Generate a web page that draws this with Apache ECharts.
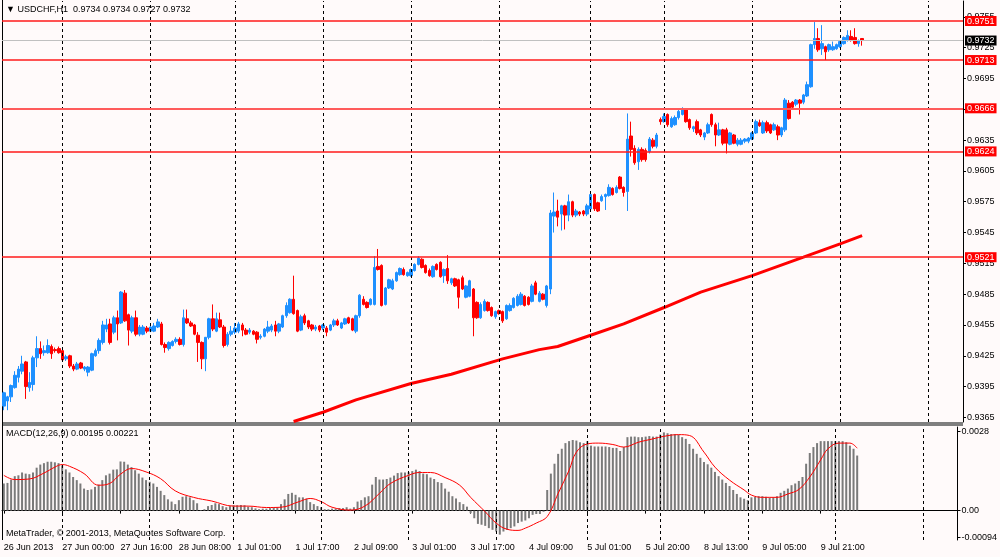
<!DOCTYPE html>
<html>
<head>
<meta charset="utf-8">
<title>USDCHF,H1</title>
<script src="https://cdn.jsdelivr.net/npm/echarts@6/dist/echarts.min.js"></script>
<style>
  html, body { margin: 0; padding: 0; background: #fffafa; }
  #main { width: 1000px; height: 557px; }
</style>
</head>
<body>
<div id="main"></div>
<script>
// hourly candles, [open, close, low, high]
var ohlc = [
  [0.9376,0.9389,0.9372,0.9390],[0.9381,0.9385,0.9372,0.9386],[0.9385,0.9396,0.9380,0.9397],[0.9394,0.9406,0.9393,0.9410],[0.9404,0.9412,0.9399,0.9415],
  [0.9410,0.9417,0.9407,0.9425],[0.9419,0.9395,0.9383,0.9420],[0.9394,0.9399,0.9390,0.9409],[0.9397,0.9423,0.9391,0.9425],[0.9423,0.9432,0.9414,0.9444],
  [0.9432,0.9427,0.9422,0.9439],[0.9428,0.9430,0.9425,0.9435],[0.9428,0.9435,0.9427,0.9441],[0.9434,0.9427,0.9422,0.9436],[0.9431,0.9430,0.9428,0.9433],
  [0.9432,0.9428,0.9427,0.9434],[0.9430,0.9421,0.9420,0.9432],[0.9422,0.9424,0.9420,0.9426],[0.9425,0.9415,0.9413,0.9426],[0.9415,0.9412,0.9410,0.9417],
  [0.9412,0.9417,0.9411,0.9419],[0.9418,0.9413,0.9412,0.9419],[0.9412,0.9414,0.9410,0.9415],[0.9409,0.9414,0.9405,0.9415],[0.9411,0.9427,0.9410,0.9428],
  [0.9425,0.9430,0.9424,0.9432],[0.9430,0.9440,0.9427,0.9442],[0.9438,0.9455,0.9436,0.9459],[0.9451,0.9455,0.9448,0.9461],[0.9456,0.9438,0.9436,0.9461],
  [0.9448,0.9462,0.9446,0.9464],[0.9462,0.9456,0.9440,0.9469],[0.9457,0.9487,0.9456,0.9488],[0.9486,0.9459,0.9458,0.9489],[0.9465,0.9450,0.9435,0.9466],
  [0.9449,0.9462,0.9447,0.9464],[0.9462,0.9446,0.9444,0.9469],[0.9446,0.9453,0.9444,0.9455],[0.9446,0.9453,0.9445,0.9455],[0.9452,0.9449,0.9447,0.9454],
  [0.9449,0.9453,0.9448,0.9455],[0.9449,0.9454,0.9448,0.9457],[0.9453,0.9458,0.9452,0.9461],[0.9456,0.9436,0.9435,0.9458],[0.9436,0.9433,0.9428,0.9438],
  [0.9432,0.9438,0.9430,0.9439],[0.9435,0.9439,0.9434,0.9440],[0.9439,0.9441,0.9437,0.9443],[0.9441,0.9436,0.9435,0.9443],[0.9436,0.9462,0.9434,0.9470],
  [0.9461,0.9457,0.9456,0.9470],[0.9457,0.9454,0.9453,0.9459],[0.9455,0.9446,0.9445,0.9456],[0.9445,0.9438,0.9419,0.9448],[0.9438,0.9422,0.9412,0.9439],
  [0.9422,0.9443,0.9410,0.9443],[0.9443,0.9461,0.9441,0.9462],[0.9461,0.9451,0.9449,0.9475],[0.9449,0.9461,0.9448,0.9467],[0.9460,0.9453,0.9452,0.9467],
  [0.9453,0.9435,0.9433,0.9455],[0.9436,0.9446,0.9434,0.9448],[0.9446,0.9449,0.9444,0.9454],[0.9448,0.9452,0.9446,0.9457],[0.9449,0.9456,0.9447,0.9458],
  [0.9455,0.9450,0.9444,0.9457],[0.9450,0.9446,0.9445,0.9452],[0.9448,0.9450,0.9446,0.9452],[0.9449,0.9446,0.9445,0.9450],[0.9448,0.9441,0.9437,0.9449],
  [0.9443,0.9444,0.9441,0.9446],[0.9444,0.9451,0.9443,0.9452],[0.9449,0.9453,0.9447,0.9459],[0.9450,0.9454,0.9448,0.9456],[0.9455,0.9449,0.9444,0.9459],
  [0.9449,0.9456,0.9447,0.9457],[0.9453,0.9464,0.9452,0.9465],[0.9464,0.9474,0.9462,0.9477],[0.9467,0.9480,0.9466,0.9481],[0.9480,0.9466,0.9465,0.9503],
  [0.9469,0.9449,0.9448,0.9470],[0.9450,0.9463,0.9449,0.9465],[0.9464,0.9457,0.9455,0.9466],[0.9459,0.9453,0.9451,0.9460],[0.9455,0.9451,0.9449,0.9456],
  [0.9451,0.9453,0.9449,0.9455],[0.9454,0.9450,0.9448,0.9455],[0.9452,0.9455,0.9450,0.9456],[0.9452,0.9448,0.9444,0.9454],[0.9450,0.9455,0.9449,0.9456],
  [0.9455,0.9459,0.9453,0.9461],[0.9459,0.9455,0.9454,0.9461],[0.9452,0.9457,0.9451,0.9458],[0.9456,0.9461,0.9455,0.9462],[0.9462,0.9457,0.9456,0.9463],
  [0.9461,0.9450,0.9449,0.9462],[0.9449,0.9464,0.9447,0.9465],[0.9464,0.9484,0.9462,0.9485],[0.9480,0.9475,0.9474,0.9483],[0.9477,0.9472,0.9471,0.9478],
  [0.9475,0.9480,0.9474,0.9481],[0.9475,0.9511,0.9474,0.9522],[0.9512,0.9509,0.9508,0.9529],[0.9513,0.9474,0.9473,0.9514],[0.9475,0.9491,0.9474,0.9492],
  [0.9491,0.9499,0.9490,0.9500],[0.9490,0.9498,0.9489,0.9500],[0.9498,0.9506,0.9497,0.9507],[0.9504,0.9510,0.9503,0.9511],[0.9509,0.9504,0.9503,0.9511],
  [0.9503,0.9506,0.9502,0.9507],[0.9503,0.9509,0.9502,0.9510],[0.9508,0.9514,0.9507,0.9515],[0.9514,0.9520,0.9513,0.9522],[0.9519,0.9511,0.9510,0.9520],
  [0.9513,0.9506,0.9505,0.9514],[0.9508,0.9503,0.9502,0.9510],[0.9502,0.9512,0.9501,0.9513],[0.9514,0.9509,0.9508,0.9515],[0.9516,0.9502,0.9501,0.9517],
  [0.9503,0.9509,0.9496,0.9510],[0.9510,0.9498,0.9495,0.9523],[0.9496,0.9500,0.9494,0.9501],[0.9500,0.9493,0.9492,0.9501],[0.9499,0.9482,0.9471,0.9500],
  [0.9501,0.9490,0.9489,0.9503],[0.9482,0.9493,0.9481,0.9494],[0.9483,0.9498,0.9482,0.9499],[0.9490,0.9462,0.9444,0.9491],[0.9477,0.9462,0.9461,0.9478],
  [0.9462,0.9475,0.9461,0.9477],[0.9469,0.9478,0.9468,0.9480],[0.9477,0.9469,0.9468,0.9478],[0.9472,0.9464,0.9463,0.9473],[0.9463,0.9468,0.9461,0.9469],
  [0.9469,0.9466,0.9465,0.9470],[0.9468,0.9459,0.9457,0.9469],[0.9461,0.9474,0.9460,0.9475],[0.9469,0.9474,0.9468,0.9476],[0.9472,0.9481,0.9471,0.9482],
  [0.9474,0.9483,0.9473,0.9485],[0.9475,0.9485,0.9474,0.9487],[0.9483,0.9474,0.9473,0.9484],[0.9482,0.9475,0.9474,0.9483],[0.9478,0.9493,0.9477,0.9495],
  [0.9496,0.9485,0.9484,0.9498],[0.9478,0.9486,0.9477,0.9488],[0.9485,0.9480,0.9479,0.9486],[0.9474,0.9493,0.9472,0.9494],[0.9490,0.9564,0.9485,0.9567],
  [0.9561,0.9565,0.9545,0.9584],[0.9566,0.9560,0.9551,0.9577],[0.9563,0.9571,0.9547,0.9572],[0.9571,0.9562,0.9548,0.9572],[0.9562,0.9575,0.9556,0.9582],
  [0.9575,0.9562,0.9560,0.9576],[0.9562,0.9566,0.9560,0.9568],[0.9565,0.9563,0.9561,0.9566],[0.9566,0.9563,0.9561,0.9567],[0.9563,0.9571,0.9561,0.9573],
  [0.9568,0.9582,0.9566,0.9583],[0.9582,0.9568,0.9566,0.9583],[0.9574,0.9566,0.9565,0.9575],[0.9576,0.9580,0.9575,0.9582],[0.9580,0.9582,0.9567,0.9583],
  [0.9581,0.9589,0.9580,0.9592],[0.9588,0.9582,0.9581,0.9589],[0.9584,0.9589,0.9583,0.9591],[0.9599,0.9588,0.9587,0.9600],[0.9589,0.9584,0.9580,0.9590],
  [0.9585,0.9636,0.9566,0.9661],[0.9639,0.9626,0.9619,0.9653],[0.9627,0.9613,0.9611,0.9630],[0.9614,0.9626,0.9606,0.9628],[0.9626,0.9616,0.9614,0.9628],
  [0.9625,0.9616,0.9614,0.9627],[0.9624,0.9636,0.9622,0.9638],[0.9635,0.9629,0.9627,0.9637],[0.9629,0.9640,0.9627,0.9642],[0.9655,0.9653,0.9650,0.9657],
  [0.9653,0.9658,0.9652,0.9661],[0.9660,0.9650,0.9648,0.9661],[0.9648,0.9656,0.9647,0.9658],[0.9650,0.9657,0.9649,0.9659],[0.9657,0.9663,0.9655,0.9665],
  [0.9660,0.9665,0.9659,0.9667],[0.9665,0.9653,0.9652,0.9666],[0.9655,0.9647,0.9645,0.9656],[0.9646,0.9648,0.9643,0.9649],[0.9653,0.9642,0.9640,0.9655],
  [0.9645,0.9640,0.9638,0.9646],[0.9638,0.9642,0.9635,0.9643],[0.9642,0.9650,0.9641,0.9652],[0.9660,0.9650,0.9648,0.9661],[0.9650,0.9640,0.9629,0.9652],
  [0.9640,0.9645,0.9639,0.9652],[0.9645,0.9632,0.9630,0.9646],[0.9645,0.9632,0.9622,0.9647],[0.9631,0.9642,0.9630,0.9643],[0.9640,0.9632,0.9631,0.9641],
  [0.9631,0.9635,0.9629,0.9637],[0.9631,0.9635,0.9630,0.9637],[0.9634,0.9636,0.9632,0.9637],[0.9634,0.9637,0.9632,0.9638],[0.9636,0.9642,0.9635,0.9643],
  [0.9642,0.9653,0.9641,0.9655],[0.9652,0.9649,0.9648,0.9655],[0.9642,0.9652,0.9641,0.9654],[0.9652,0.9644,0.9642,0.9654],[0.9650,0.9642,0.9641,0.9651],
  [0.9645,0.9650,0.9644,0.9652],[0.9648,0.9640,0.9635,0.9650],[0.9640,0.9647,0.9638,0.9648],[0.9645,0.9674,0.9643,0.9676],[0.9671,0.9656,0.9655,0.9674],
  [0.9672,0.9667,0.9665,0.9673],[0.9670,0.9674,0.9668,0.9675],[0.9674,0.9671,0.9660,0.9675],[0.9672,0.9679,0.9670,0.9680],[0.9678,0.9689,0.9677,0.9692],
  [0.9687,0.9728,0.9686,0.9729],[0.9728,0.9734,0.9724,0.9750],[0.9734,0.9723,0.9721,0.9744],[0.9724,0.9729,0.9718,0.9747],[0.9726,0.9721,0.9713,0.9727],
  [0.9723,0.9728,0.9721,0.9729],[0.9723,0.9726,0.9722,0.9731],[0.9724,0.9728,0.9723,0.9729],[0.9726,0.9731,0.9725,0.9732],[0.9729,0.9735,0.9728,0.9736],
  [0.9732,0.9737,0.9731,0.9742],[0.9736,0.9732,0.9731,0.9742],[0.9735,0.9729,0.9728,0.9744],[0.9729,0.9732,0.9726,0.9733],[0.9734,0.9732,0.9727,0.9734]
];

// 200-period moving average, read at [bar, price]
var maPts = [[79,0.9361],[87,0.9370],[96,0.9382],[111,0.9398],[122,0.9407],[136,0.9422],[146,0.9431],[151,0.9434],
  [160,0.9445],[169,0.9456],[180,0.9472],[190,0.9487],[204,0.9503],[218,0.9521],[228,0.9534],[234,0.9542]];

// MACD(12,26,9) main histogram, one value per bar
var macdHist = [
  0.00096,0.00098,0.00110,0.00122,0.00125,0.00135,0.00131,0.00129,0.00135,0.00152,
  0.00163,0.00168,0.00173,0.00173,0.00171,0.00168,0.00160,0.00146,0.00135,0.00119,
  0.00108,0.00096,0.00078,0.00073,0.00075,0.00084,0.00092,0.00108,0.00125,0.00131,
  0.00145,0.00146,0.00174,0.00173,0.00163,0.00154,0.00143,0.00131,0.00117,0.00108,
  0.00102,0.00096,0.00084,0.00070,0.00055,0.00040,0.00032,0.00023,0.00037,0.00049,
  0.00051,0.00047,0.00037,0.00026,0.00002,0.00005,0.00016,0.00020,0.00026,0.00023,
  0.00016,0.00012,0.00016,0.00019,0.00019,0.00020,0.00019,0.00014,0.00012,0.00008,
  0.00005,0.00007,0.00007,0.00009,0.00011,0.00012,0.00023,0.00040,0.00059,0.00063,
  0.00056,0.00047,0.00047,0.00042,0.00030,0.00023,0.00016,0.00012,0.00005,0.00005,
  0.00007,0.00007,0.00009,0.00009,0.00012,0.00007,0.00012,0.00032,0.00037,0.00047,
  0.00051,0.00092,0.00119,0.00110,0.00110,0.00112,0.00117,0.00124,0.00133,0.00135,
  0.00135,0.00136,0.00140,0.00145,0.00140,0.00131,0.00129,0.00117,0.00112,0.00101,
  0.00098,0.00078,0.00067,0.00051,0.00043,0.00030,0.00023,0.00014,-0.00009,-0.00027,
  -0.00047,-0.00050,-0.00054,-0.00062,-0.00068,-0.00074,-0.00085,-0.00074,-0.00068,-0.00062,
  -0.00056,-0.00044,-0.00039,-0.00035,-0.00027,-0.00015,-0.00012,-0.00012,-0.00004,0.00073,
  0.00131,0.00166,0.00201,0.00219,0.00239,0.00246,0.00250,0.00248,0.00242,0.00239,
  0.00246,0.00230,0.00227,0.00227,0.00227,0.00227,0.00225,0.00222,0.00222,0.00211,
  0.00225,0.00260,0.00262,0.00262,0.00260,0.00260,0.00262,0.00264,0.00262,0.00262,
  0.00269,0.00277,0.00274,0.00271,0.00271,0.00269,0.00260,0.00254,0.00236,0.00219,
  0.00201,0.00187,0.00172,0.00164,0.00152,0.00137,0.00122,0.00110,0.00098,0.00087,
  0.00073,0.00059,0.00047,0.00042,0.00037,0.00047,0.00049,0.00051,0.00051,0.00049,
  0.00046,0.00047,0.00051,0.00063,0.00070,0.00078,0.00090,0.00096,0.00105,0.00119,
  0.00166,0.00204,0.00225,0.00239,0.00246,0.00246,0.00246,0.00246,0.00246,0.00246,
  0.00246,0.00242,0.00230,0.00219,0.00195
];

// MACD signal line, read at [bar, value]
var signalPts = [[0,0.00125],[3,0.00110],[7,0.00112],[11,0.00133],[14,0.00154],[16,0.00163],[18,0.00157],[22,0.00131],
  [26,0.00090],[29,0.00096],[32,0.00129],[35,0.00149],[39,0.00137],[43,0.00113],[47,0.00070],[52,0.00047],[57,0.00034],
  [63,0.00016],[67,0.00016],[72,0.00011],[76,0.00012],[81,0.00032],[84,0.00043],[87,0.00032],[90,0.00012],[95,0.00002],
  [99,0.00016],[103,0.00061],[106,0.00096],[111,0.00125],[114,0.00135],[117,0.00135],[121,0.00117],[125,0.00090],
  [128,0.00047],[132,-0.00004],[135,-0.00044],[138,-0.00066],[141,-0.00070],[143,-0.00062],[146,-0.00044],[149,-0.00021],
  [152,0.00061],[155,0.00143],[157,0.00207],[160,0.00236],[163,0.00239],[167,0.00234],[170,0.00225],[174,0.00242],
  [178,0.00254],[181,0.00263],[185,0.00269],[188,0.00266],[192,0.00207],[195,0.00154],[199,0.00108],[203,0.00073],
  [205,0.00055],[208,0.00047],[212,0.00047],[215,0.00059],[218,0.00075],[221,0.00119],[224,0.00180],[226,0.00219],
  [229,0.00239],[232,0.00239],[234,0.00221]];

var levels = [0.9751, 0.9713, 0.9666, 0.9624, 0.9521];
var lastPrice = 0.9732;
var priceTicks = [0.9365, 0.9395, 0.9425, 0.9455, 0.9485, 0.9515, 0.9545, 0.9575, 0.9605, 0.9635, 0.9665, 0.9695, 0.9725, 0.9755];
var macdTicks = [-0.00094, 0, 0.0028];
var macdTickLabels = ['-0.00094', '0.00', '0.0028'];
var timeLabelIdx = [0, 16, 32, 48, 64, 80, 96, 112, 128, 144, 160, 176, 192, 208, 224];
var timeLabels = ['26 Jun 2013', '27 Jun 00:00', '27 Jun 16:00', '28 Jun 08:00', '1 Jul 01:00', '1 Jul 17:00', '2 Jul 09:00',
  '3 Jul 01:00', '3 Jul 17:00', '4 Jul 09:00', '5 Jul 01:00', '5 Jul 20:00', '8 Jul 13:00', '9 Jul 05:00', '9 Jul 21:00'];
var dayLines = [16, 40, 63, 87, 111, 135, 160, 180, 204, 228, 252];
var barSlots = 262;   // visible bar positions incl. empty space on the right

var FONT = "'Liberation Sans', Arial, sans-serif";

var cats = [];
for (var i = 0; i < barSlots; i++) cats.push(String(i));

function isTimeLabel(idx) { return timeLabelIdx.indexOf(idx) >= 0; }

var gridLines = dayLines.map(function (d) { return { xAxis: d }; });

// one markLine per level so every line keeps its own red style
var levelSeries = levels.map(function (v) {
  var thick = v === 0.9666;
  return {
    type: 'line', xAxisIndex: 0, yAxisIndex: 0, data: [], z: 2, silent: true,
    markLine: {
      symbol: 'none', silent: true, animation: false, precision: 5,
      lineStyle: { color: thick ? '#ff5a5a' : '#ff1a1a', width: thick ? 2 : 1.5, type: 'solid' },
      label: {
        show: true, position: 'end', distance: 2, color: '#fff', fontSize: 9, fontFamily: FONT,
        padding: [1, 2, 0, 2], backgroundColor: '#ff0000', formatter: v.toFixed(4)
      },
      data: [{ yAxis: v }]
    }
  };
});
levelSeries.push({
  type: 'line', xAxisIndex: 0, yAxisIndex: 0, data: [], z: 2, silent: true,
  markLine: {
    symbol: 'none', silent: true, animation: false, precision: 5,
    lineStyle: { color: '#c0c0c0', width: 1, type: 'solid' },
    label: {
      show: true, position: 'end', distance: 2, color: '#fff', fontSize: 9, fontFamily: FONT,
      padding: [1, 2, 0, 2], backgroundColor: '#000000', formatter: lastPrice.toFixed(4)
    },
    data: [{ yAxis: lastPrice }]
  }
});

var myChart = echarts.init(document.getElementById('main'));

var option = {
  animation: false,
  backgroundColor: '#fffafa',
  textStyle: { fontFamily: FONT },
  grid: [
    { left: 2, right: 37, top: 1, height: 421 },
    { left: 2, right: 37, top: 427, height: 113 }
  ],
  xAxis: [
    {
      type: 'category', gridIndex: 0, data: cats, boundaryGap: true,
      axisLine: { show: false }, axisTick: { show: false }, axisLabel: { show: false }, splitLine: { show: false }
    },
    {
      type: 'category', gridIndex: 1, data: cats, boundaryGap: true,
      axisLine: { show: true, lineStyle: { color: '#000', width: 1 } },
      axisTick: { show: true, alignWithLabel: true, length: 3, interval: isTimeLabel, lineStyle: { color: '#000' } },
      axisLabel: {
        interval: isTimeLabel, align: 'left', margin: 3, color: '#000', fontSize: 9, fontFamily: FONT,
        formatter: function (val) { return timeLabels[timeLabelIdx.indexOf(Number(val))] || ''; }
      },
      splitLine: { show: false }
    }
  ],
  yAxis: [
    {
      type: 'value', gridIndex: 0, position: 'right', min: 0.93605, max: 0.97705,
      axisLine: { show: true, lineStyle: { color: '#000' } },
      axisTick: { show: true, length: 3, customValues: priceTicks, lineStyle: { color: '#000' } },
      axisLabel: {
        customValues: priceTicks, margin: 4, color: '#000', fontSize: 9, fontFamily: FONT,
        formatter: function (v) { return v.toFixed(4); }
      },
      splitLine: { show: false }
    },
    {
      type: 'value', gridIndex: 1, position: 'right', min: -0.00104, max: 0.00296,
      axisLine: { show: true, lineStyle: { color: '#000' } },
      axisTick: { show: true, length: 3, customValues: macdTicks, lineStyle: { color: '#000' } },
      axisLabel: {
        customValues: macdTicks, margin: 4, color: '#000', fontSize: 9, fontFamily: FONT,
        formatter: function (v) { return macdTickLabels[macdTicks.indexOf(v)]; }
      },
      splitLine: { show: false }
    }
  ],
  series: [
    {
      // vertical day separators, main pane
      type: 'line', xAxisIndex: 0, yAxisIndex: 0, data: [], z: 1, silent: true,
      markLine: {
        symbol: 'none', silent: true, animation: false, label: { show: false },
        lineStyle: { color: '#000', width: 1, type: [3, 3] }, data: gridLines
      }
    },
    {
      // vertical day separators, MACD pane
      type: 'line', xAxisIndex: 1, yAxisIndex: 1, data: [], z: 1, silent: true,
      markLine: {
        symbol: 'none', silent: true, animation: false, label: { show: false },
        lineStyle: { color: '#000', width: 1, type: [3, 3] }, data: gridLines
      }
    }
  ].concat(levelSeries).concat([
    {
      name: 'USDCHF', type: 'candlestick', xAxisIndex: 0, yAxisIndex: 0, data: ohlc, barWidth: 3, z: 3,
      itemStyle: { color: '#1e90ff', color0: '#ff0000', borderColor: '#1e90ff', borderColor0: '#ff0000', borderWidth: 1 }
    },
    {
      name: 'MA', type: 'line', xAxisIndex: 0, yAxisIndex: 0, data: maPts, z: 4,
      showSymbol: false, lineStyle: { color: '#ff0000', width: 3 }
    },
    {
      name: 'MACD', type: 'bar', xAxisIndex: 1, yAxisIndex: 1, data: macdHist, barWidth: 2,
      itemStyle: { color: '#7a7a7a' }
    },
    {
      name: 'Signal', type: 'line', xAxisIndex: 1, yAxisIndex: 1, data: signalPts, smooth: 0.4,
      showSymbol: false, lineStyle: { color: '#ff0000', width: 1 }
    }
  ]),
  graphic: [
    { type: 'rect', left: 2, top: 422, shape: { width: 961, height: 4 }, style: { fill: '#7f7f7f' }, silent: true },
    { type: 'line', shape: { x1: 2.5, y1: 0, x2: 2.5, y2: 540 }, style: { stroke: '#000', lineWidth: 1 }, silent: true },
    { type: 'text', left: 6, top: 5, style: { text: '\u25BC USDCHF,H1  0.9734 0.9734 0.9727 0.9732', fill: '#000', font: '9px ' + FONT } },
    { type: 'text', left: 6, top: 429, style: { text: 'MACD(12,26,9) 0.00195 0.00221', fill: '#000', font: '9px ' + FONT } },
    { type: 'text', left: 6, top: 529, style: { text: 'MetaTrader, \u00A9 2001-2013, MetaQuotes Software Corp.', fill: '#000', font: '9px ' + FONT } }
  ]
};

myChart.setOption(option);
</script>
</body>
</html>
